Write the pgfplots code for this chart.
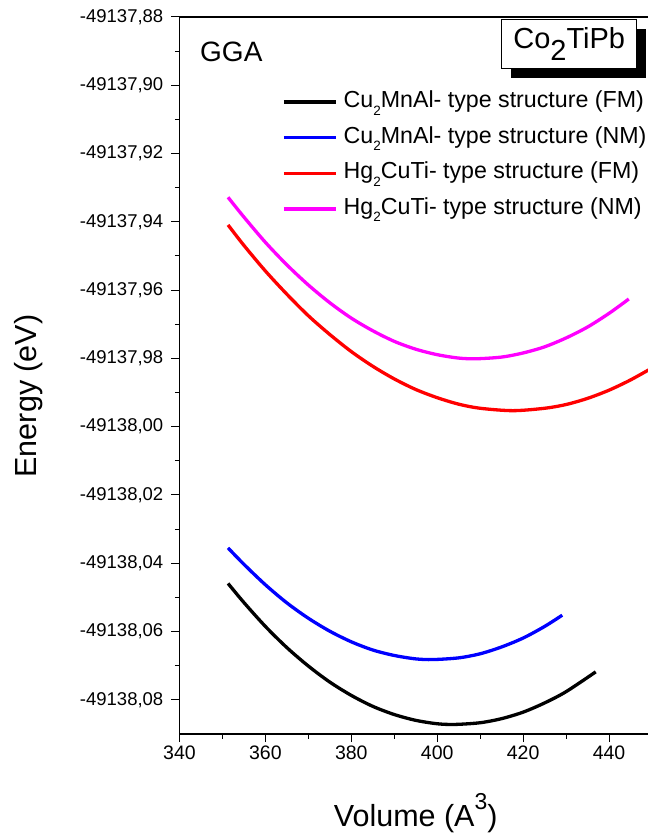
\documentclass[border=0pt]{standalone}
\usepackage{fontspec}
\setmainfont{Liberation Sans}
\usepackage{pgfplots}
\pgfplotsset{compat=1.18}
\usepackage{pgfplotstable}
\usetikzlibrary{shadows}
\definecolor{nmpink}{RGB}{255,0,255}
\definecolor{fmred}{RGB}{255,0,0}
\definecolor{nmblue}{RGB}{0,0,255}

% energies stored as E + 49138 eV (the axis labels give the absolute values)
\pgfplotstableread{
V      dE
351.3 -0.0459
355   -0.0515
360   -0.0585
365   -0.0647
370   -0.0701
375   -0.0748
380   -0.0787
385   -0.0819
390   -0.0843
395   -0.0860
400   -0.0870
404.1 -0.0872
410   -0.0867
415   -0.0855
420   -0.0836
425   -0.0809
430   -0.0776
436.9 -0.0718
}\cufm
\pgfplotstableread{
V      dE
351.3 -0.0355
355   -0.0403
360   -0.0463
365   -0.0516
370   -0.0561
375   -0.0599
380   -0.0630
385   -0.0654
390   -0.0670
395   -0.0680
399   -0.0682
405   -0.0677
410   -0.0665
415   -0.0645
420   -0.0619
425   -0.0585
429.1 -0.0552
}\cunm
\pgfplotstableread{
V      dE
351.3  0.0591
355    0.0531
360    0.0456
365    0.0388
370    0.0325
375    0.0270
380    0.0220
385    0.0177
390    0.0140
395    0.0109
400    0.0085
405    0.0066
410    0.0054
417.6  0.0047
425    0.0054
430    0.0065
435    0.0083
440    0.0107
445    0.0137
450    0.0172
}\hgfm
\pgfplotstableread{
V      dE
351.3  0.0672
355    0.0614
360    0.0540
365    0.0474
370    0.0415
375    0.0363
380    0.0318
385    0.0281
390    0.0250
395    0.0227
400    0.0211
405    0.0201
409.1  0.0199
415    0.0204
420    0.0216
425    0.0234
430    0.0260
435    0.0292
440    0.0332
444.6  0.0374
}\hgnm

\newcommand{\sub}[1]{\raisebox{-0.32em}{\fontsize{13.5bp}{14bp}\selectfont #1}}

\begin{document}
\begin{tikzpicture}
\begin{axis}[
  at={(0,0)}, anchor=south west,
  scale only axis, width=472.5bp, height=717bp,
  xmin=340, xmax=450, ymin=-0.09, ymax=0.12,
  xtick={340,360,380,400,420,440}, minor x tick num=1,
  ytick={-0.08,-0.06,-0.04,-0.02,0,0.02,0.04,0.06,0.08,0.10,0.12},
  yticklabels={{-49138,08},{-49138,06},{-49138,04},{-49138,02},{-49138,00},
    {-49137,98},{-49137,96},{-49137,94},{-49137,92},{-49137,90},{-49137,88}},
  minor y tick num=1,
  tick align=outside, xtick pos=bottom, ytick pos=left,
  major tick length=8bp, minor tick length=4.5bp,
  every tick/.style={black, line width=1bp},
  axis line style={line width=1.3bp},
  /pgf/number format/assume math mode=true,
  xticklabel style={font=\fontsize{19.5bp}{21bp}\selectfont, inner sep=0pt, yshift=-4bp},
  yticklabel style={font=\fontsize{18.5bp}{20bp}\selectfont, inner sep=0pt, xshift=-8bp},
  xlabel={Volume (A\raisebox{0.55em}{\fontsize{23bp}{24bp}\selectfont 3})},
  ylabel={Energy (eV)},
  label style={font=\fontsize{30.5bp}{32bp}\selectfont},
  xlabel style={at={(axis description cs:0.5,0)}, anchor=base, yshift=-92.7bp},
  ylabel style={at={(axis description cs:0,0.4714)}, anchor=base, yshift=142.5bp},
  legend image code/.code={\draw[#1, line width=3.5bp] (0bp,0bp) -- (52bp,0bp);},
  legend style={draw=none, fill=none, inner sep=0pt,
    at={(axis description cs:0.2170,0.8068)}, anchor=west,
    font=\fontsize{23.2bp}{24bp}\selectfont,
    nodes={inner sep=0pt, text height=16bp, text depth=5bp},
    row sep=14.6bp, column sep=6bp},
  legend cell align=left,
  every axis plot/.append style={line width=3.3bp, smooth},
]
\addplot[black] table[x=V, y=dE] {\cufm};
\addlegendentry{Cu\sub{2}MnAl- type structure (FM)}
\addplot[nmblue] table[x=V, y=dE] {\cunm};
\addlegendentry{Cu\sub{2}MnAl- type structure (NM)}
\addplot[fmred] table[x=V, y=dE] {\hgfm};
\addlegendentry{Hg\sub{2}CuTi- type structure (FM)}
\addplot[nmpink] table[x=V, y=dE] {\hgnm};
\addlegendentry{Hg\sub{2}CuTi- type structure (NM)}
\end{axis}
\node[anchor=west, inner sep=0pt, font=\fontsize{28bp}{30bp}\selectfont] at (20.5bp,682bp) {GGA};
\node[draw=black, line width=1bp, fill=white, minimum width=135bp, minimum height=48.3bp, inner sep=0pt,
  drop shadow={shadow xshift=9.5bp, shadow yshift=-9.5bp, fill=black, opacity=1},
  font=\fontsize{29bp}{30bp}\selectfont] at (389.7bp,690bp) {Co\raisebox{-12.5bp}{2}TiPb};
\pgfresetboundingbox
\path[use as bounding box] (-179.5bp,-102bp) rectangle (468.5bp,734bp);
\end{tikzpicture}
\end{document}
